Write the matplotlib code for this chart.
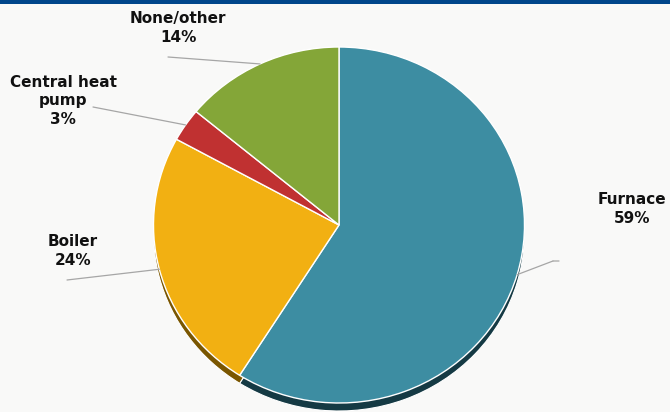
import matplotlib.pyplot as plt
import numpy as np

labels = ["Furnace", "Boiler", "Central heat\npump", "None/other"]
shares = [59, 24, 3, 14]
colors = ["#3d8da2", "#f2b012", "#c03131", "#84a638"]
side_colors = ["#153a44", "#7a5600", "#601818", "#42531c"]

# label text centres (figure pixels, from top-left)
label_pos = [(632, 209), (73, 251), (63, 101), (178, 28)]
# where each leader line starts, next to its label
leader_start = [(553, 261), (67, 280), (93, 107), (168, 57)]

W, H = 670, 412
cx, cy = 339, 225
rx, ry = 185.5, 178
pad = 1.1

fig = plt.figure(figsize=(W / 100, H / 100), dpi=100)
fig.patch.set_facecolor("#f9f9f8")

ax = fig.add_axes([(cx - rx * pad) / W, (H - cy - ry * pad) / H,
                   2 * rx * pad / W, 2 * ry * pad / H])

# extruded side of the pie, drawn first and shifted down
ax.pie(shares, colors=side_colors, startangle=90, counterclock=False,
       center=(0, -8 / ry), wedgeprops=dict(edgecolor="white", linewidth=0.8))
wedges, _ = ax.pie(shares, colors=colors, startangle=90, counterclock=False,
                   wedgeprops=dict(edgecolor="white", linewidth=1.0))
# pie() resets limits and aspect, so stretch the unit circle to the box afterwards
ax.set_aspect("auto")
ax.set_xlim(-pad, pad)
ax.set_ylim(-pad, pad)
ax.axis("off")

for w, lab, share, (tx, ty), (sx, sy) in zip(wedges, labels, shares, label_pos, leader_start):
    mid = np.deg2rad((w.theta1 + w.theta2) / 2)
    fig.text(tx / W, 1 - ty / H, f"{lab}\n{share}%", ha="center", va="center",
             fontsize=11, fontweight="bold", color="#111111", linespacing=1.3)
    ax.annotate("", xy=(np.cos(mid), np.sin(mid)), xycoords="data",
                xytext=(sx, H - sy), textcoords="figure pixels",
                arrowprops=dict(arrowstyle="-", color="#a6a6a6", lw=0.9,
                                shrinkA=0, shrinkB=0))

# short horizontal tail on the Furnace leader
ax.annotate("", xy=(553, H - 261), xycoords="figure pixels",
            xytext=(559, H - 261), textcoords="figure pixels",
            arrowprops=dict(arrowstyle="-", color="#a6a6a6", lw=0.9,
                            shrinkA=0, shrinkB=0))

# header strip
fig.patches.append(plt.Rectangle((0, 1 - 4 / H), 1, 4 / H, transform=fig.transFigure,
                                 facecolor="#00468b", edgecolor="none"))

fig.savefig("out.png", dpi=100, facecolor=fig.get_facecolor())
